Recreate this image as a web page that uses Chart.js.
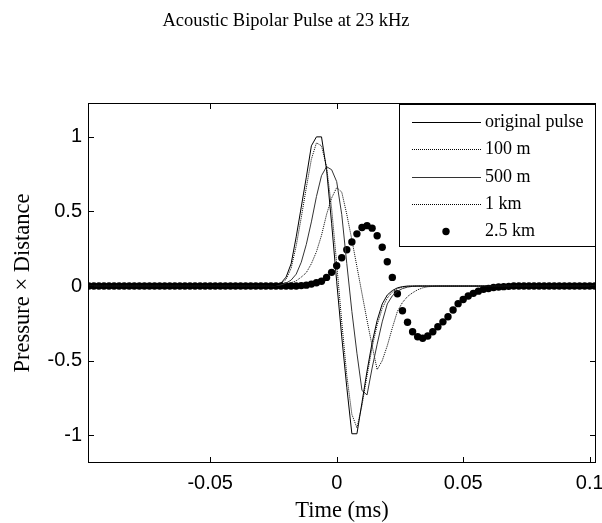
<!DOCTYPE html>
<html lang="en">
<head>
<meta charset="utf-8">
<title>Acoustic Bipolar Pulse at 23 kHz</title>
<script src="https://cdn.jsdelivr.net/npm/chart.js@4.4.0/dist/chart.umd.min.js"></script>
<style>
body{margin:0;background:#fff}
canvas{display:block}
</style>
</head>
<body>
<canvas id="chart" width="602" height="523"></canvas>
<script>
/* time axis (ms), one sample every 0.002 ms */
const timeMs = [
  -0.098,-0.096,-0.094,-0.092,-0.09,-0.088,-0.086,-0.084,-0.082,-0.08,
  -0.078,-0.076,-0.074,-0.072,-0.07,-0.068,-0.066,-0.064,-0.062,-0.06,
  -0.058,-0.056,-0.054,-0.052,-0.05,-0.048,-0.046,-0.044,-0.042,-0.04,
  -0.038,-0.036,-0.034,-0.032,-0.03,-0.028,-0.026,-0.024,-0.022,-0.02,
  -0.018,-0.016,-0.014,-0.012,-0.01,-0.008,-0.006,-0.004,-0.002,0,
  0.002,0.004,0.006,0.008,0.01,0.012,0.014,0.016,0.018,0.02,
  0.022,0.024,0.026,0.028,0.03,0.032,0.034,0.036,0.038,0.04,
  0.042,0.044,0.046,0.048,0.05,0.052,0.054,0.056,0.058,0.06,
  0.062,0.064,0.066,0.068,0.07,0.072,0.074,0.076,0.078,0.08,
  0.082,0.084,0.086,0.088,0.09,0.092,0.094,0.096,0.098,0.1,
  0.102
];

const originalPulse = [
  0,0,0,0,0,0,0,0,0,0,
  0,0,0,0,0,0,0,0,0,0,
  0,0,0,0,0,0,0,0,0,0,
  0,0,0,0,0,0,0,0.005,0.02,0.06,
  0.15,0.33,0.53,0.73,0.94,1.0,1.0,0.78,0.42,0.03,
  -0.34,-0.68,-0.99,-0.99,-0.78,-0.57,-0.38,-0.23,-0.12,-0.06,
  -0.03,-0.012,-0.004,0,0,0,0,0,0,0,
  0,0,0,0,0,0,0,0,0,0,
  0,0,0,0,0,0,0,0,0,0,
  0,0,0,0,0,0,0,0,0,0,
  0
];

const at100m = [
  0,0,0,0,0,0,0,0,0,0,
  0,0,0,0,0,0,0,0,0,0,
  0,0,0,0,0,0,0,0,0,0,
  0,0,0,0,0,0,0,0.004,0.015,0.045,
  0.12,0.27,0.46,0.66,0.85,0.96,0.94,0.80,0.52,0.15,
  -0.24,-0.60,-0.86,-0.95,-0.80,-0.60,-0.41,-0.26,-0.15,-0.08,
  -0.04,-0.018,-0.007,-0.002,0,0,0,0,0,0,
  0,0,0,0,0,0,0,0,0,0,
  0,0,0,0,0,0,0,0,0,0,
  0,0,0,0,0,0,0,0,0,0,
  0
];

const at500m = [
  0,0,0,0,0,0,0,0,0,0,
  0,0,0,0,0,0,0,0,0,0,
  0,0,0,0,0,0,0,0,0,0,
  0,0,0,0,0,0,0,0.003,0.008,0.02,
  0.04,0.08,0.16,0.28,0.43,0.60,0.74,0.80,0.78,0.70,
  0.48,0.15,-0.17,-0.45,-0.70,-0.73,-0.55,-0.39,-0.24,-0.12,
  -0.065,-0.035,-0.017,-0.007,-0.002,0,0,0,0,0,
  0,0,0,0,0,0,0,0,0,0,
  0,0,0,0,0,0,0,0,0,0,
  0,0,0,0,0,0,0,0,0,0,
  0
];

const at1km = [
  0,0,0,0,0,0,0,0,0,0,
  0,0,0,0,0,0,0,0,0,0,
  0,0,0,0,0,0,0,0,0,0,
  0,0,0,0,0,0,0.002,0.004,0.008,0.014,
  0.022,0.035,0.06,0.09,0.15,0.23,0.34,0.48,0.59,0.66,
  0.63,0.48,0.31,0.13,-0.05,-0.23,-0.40,-0.56,-0.50,-0.40,
  -0.28,-0.17,-0.11,-0.07,-0.045,-0.025,-0.012,-0.005,-0.002,0,
  0,0,0,0,0,0,0,0,0,0,
  0,0,0,0,0,0,0,0,0,0,
  0,0,0,0,0,0,0,0,0,0,
  0
];

const at2500m = [
  0,0,0,0,0,0,0,0,0,0,
  0,0,0,0,0,0,0,0,0,0,
  0,0,0,0,0,0,0,0,0,0,
  0,0,0,0,0,0,0,0,0,0,
  0,0,0.003,0.006,0.013,0.022,0.032,0.058,0.092,0.136,
  0.19,0.243,0.295,0.35,0.393,0.405,0.388,0.337,0.26,0.163,
  0.058,-0.052,-0.165,-0.243,-0.306,-0.34,-0.35,-0.335,-0.306,-0.273,
  -0.24,-0.206,-0.16,-0.118,-0.09,-0.067,-0.049,-0.034,-0.022,-0.016,
  -0.01,-0.006,-0.004,-0.002,0,0,0,0,0,0,
  0,0,0,0,0,0,0,0,0,0,
  0
];

const seriesNames = ['original pulse','100 m','500 m','1 km','2.5 km'];
const xTicks = [-0.05, 0, 0.05, 0.1];
const yTicks = [-1, -0.5, 0, 0.5, 1];

const serif = 'Liberation Serif, "Times New Roman", serif';
const sans  = 'Liberation Sans, Arial, sans-serif';

const pts = vals => timeMs.map((t,i)=>({x:t, y:vals[i]}));

/* title, box, inward ticks and legend (MATLAB style) */
const matlabFrame = {
  id:'matlabFrame',
  afterDatasetsDraw(chart){
    const {ctx, chartArea:a, scales:{x, y}} = chart;
    ctx.save();
    ctx.strokeStyle = '#000';
    ctx.lineWidth = 1;
    ctx.strokeRect(a.left+0.5, a.top+0.5, a.right-a.left-1, a.bottom-a.top-1);
    ctx.beginPath();
    xTicks.forEach(v=>{
      const px = Math.round(x.getPixelForValue(v))+0.5;
      ctx.moveTo(px, a.bottom); ctx.lineTo(px, a.bottom-6);
      ctx.moveTo(px, a.top);    ctx.lineTo(px, a.top+6);
    });
    yTicks.forEach(v=>{
      const py = Math.round(y.getPixelForValue(v))+0.5;
      ctx.moveTo(a.left, py);  ctx.lineTo(a.left+6, py);
      ctx.moveTo(a.right, py); ctx.lineTo(a.right-6, py);
    });
    ctx.stroke();
    ctx.restore();
  },
  afterDraw(chart){
    const {ctx, chartArea:a} = chart;
    ctx.save();
    // title
    ctx.fillStyle = '#000';
    ctx.font = '18.5px ' + serif;
    ctx.textAlign = 'center';
    ctx.textBaseline = 'alphabetic';
    ctx.fillText('Acoustic Bipolar Pulse at 23 kHz', 286, 26);

    // legend box
    const bw = 197, bh = 143;
    const bx = a.right - bw, by = a.top + 1;
    ctx.fillStyle = '#fff';
    ctx.fillRect(bx, by, bw, bh);
    ctx.strokeStyle = '#000';
    ctx.lineWidth = 1;
    ctx.strokeRect(bx+0.5, by+0.5, bw-1, bh-1);
    ctx.font = '18px ' + serif;
    ctx.textAlign = 'left';
    ctx.textBaseline = 'middle';
    chart.data.datasets.forEach((ds,i)=>{
      const cy = Math.round(by + 18 + i*27.3) + 0.5;
      if(ds.showLine === false){
        ctx.fillStyle = ds.pointBackgroundColor;
        ctx.beginPath();
        ctx.arc(bx+47, cy, ds.pointRadius, 0, Math.PI*2);
        ctx.fill();
      }else{
        ctx.strokeStyle = ds.borderColor;
        ctx.lineWidth = ds.borderWidth;
        ctx.setLineDash(ds.borderDash || []);
        ctx.beginPath();
        ctx.moveTo(bx+13, cy); ctx.lineTo(bx+82, cy);
        ctx.stroke();
        ctx.setLineDash([]);
      }
      ctx.fillStyle = '#000';
      ctx.fillText(seriesNames[i], bx+86, cy);
    });
    ctx.restore();
  }
};

new Chart(document.getElementById('chart').getContext('2d'), {
  type:'line',
  data:{
    datasets:[
      { label:seriesNames[0], data:pts(originalPulse), borderColor:'#000',    borderWidth:1, pointRadius:0, tension:0 },
      { label:seriesNames[1], data:pts(at100m),        borderColor:'#000',    borderWidth:1, borderDash:[1,1], pointRadius:0, tension:0 },
      { label:seriesNames[2], data:pts(at500m),        borderColor:'#333',    borderWidth:1, pointRadius:0, tension:0 },
      { label:seriesNames[3], data:pts(at1km),         borderColor:'#000',    borderWidth:1, borderDash:[1,1], pointRadius:0, tension:0 },
      { label:seriesNames[4], data:pts(at2500m),       showLine:false, pointRadius:3.7, pointBackgroundColor:'#000', pointBorderWidth:0, borderColor:'#000' }
    ]
  },
  options:{
    responsive:false,
    animation:false,
    devicePixelRatio:1,
    layout:{ padding:{ left:0, top:103, right:6, bottom:0 } },
    plugins:{ legend:{display:false}, tooltip:{enabled:false}, title:{display:false} },
    scales:{
      x:{
        type:'linear', min:-0.0983, max:0.1025,
        afterBuildTicks:s=>{ s.ticks = xTicks.map(v=>({value:v})); },
        afterFit:s=>{ s.height = 60; s.paddingLeft = 0; s.paddingRight = 0; },
        grid:{display:false, drawTicks:false},
        border:{display:false},
        ticks:{ callback:v=>String(v), color:'#000', font:{family:sans, size:20}, padding:8, maxRotation:0, autoSkip:false },
        title:{ display:true, text:'Time (ms)', color:'#000', font:{family:serif, size:22.5, lineHeight:1}, padding:{top:0, bottom:1} }
      },
      y:{
        min:-1.186, max:1.227,
        afterBuildTicks:s=>{ s.ticks = yTicks.map(v=>({value:v})); },
        afterFit:s=>{ s.width = 88; s.paddingTop = 0; s.paddingBottom = 0; },
        grid:{display:false, drawTicks:false},
        border:{display:false},
        ticks:{ callback:v=>String(v), color:'#000', font:{family:sans, size:20}, padding:6, autoSkip:false },
        title:{ display:true, text:'Pressure \u00d7 Distance', color:'#000', font:{family:serif, size:22.5, lineHeight:1}, padding:{top:12, bottom:0} }
      }
    }
  },
  plugins:[matlabFrame]
});
</script>
</body>
</html>
